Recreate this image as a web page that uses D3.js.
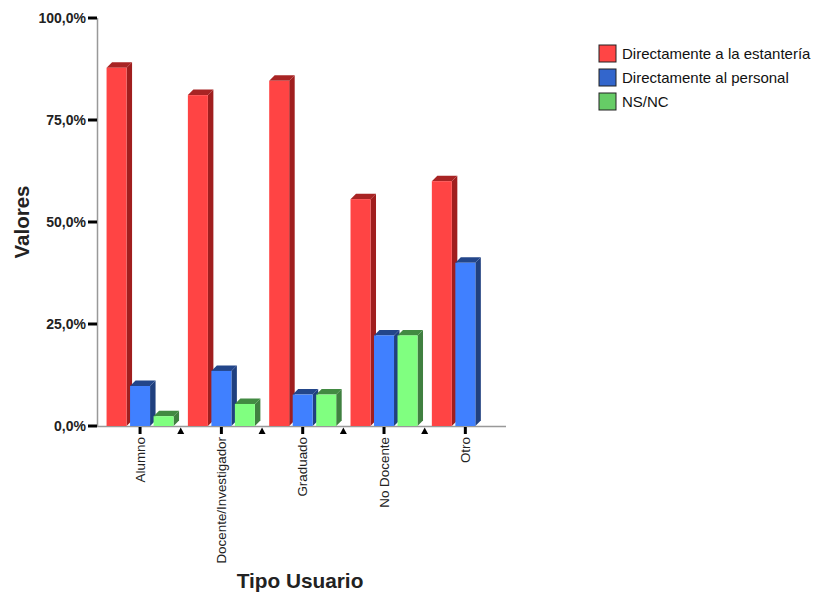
<!DOCTYPE html>
<html><head><meta charset="utf-8">
<script src="https://cdn.jsdelivr.net/npm/d3@7"></script>
<style>body{margin:0;background:#fff}svg{font-family:"Liberation Sans",Arial,sans-serif}</style>
</head><body>
<script>
const categories = ["Alumno","Docente/Investigador","Graduado","No Docente","Otro"];
const seriesNames = ["Directamente a la estantería","Directamente al personal","NS/NC"];
const estanteria = [87.8, 81.1, 84.6, 55.6, 60.0];
const personal   = [9.8, 13.5, 7.7, 22.2, 40.0];
const nsnc       = [2.4, 5.4, 7.7, 22.2, 0];
const yTicks = [0, 25, 50, 75, 100];
const yTickLabels = ["0,0%","25,0%","50,0%","75,0%","100,0%"];

const fronts = ["#ff4444","#4080ff","#80ff80"];
const sides  = ["#a01e1e","#20407f","#408040"];
const tops   = ["#a82424","#23468a","#428a42"];
const legendCols = ["#ff4545","#3366cc","#66cc66"];

const W=820,H=593;
const svg=d3.select("body").append("svg").attr("width",W).attr("height",H);
const y=d3.scaleLinear().domain([0,100]).range([426,18]);
const x0=d3.scaleBand().domain(categories).range([99.4,506]);
const x1=d3.scaleBand().domain(seriesNames).range([-33.5,33.5]).paddingInner(0.149);
const allSeries=[estanteria,personal,nsnc];
const D=5.5;

// axes lines
svg.append("line").attr("x1",97.5).attr("x2",97.5).attr("y1",y(100)).attr("y2",y(0)).attr("stroke","#999").attr("stroke-width",1.5);
svg.append("line").attr("x1",97).attr("x2",506).attr("y1",426.5).attr("y2",426.5).attr("stroke","#999").attr("stroke-width",1.5);

// y ticks
const yt=svg.append("g");
yTicks.forEach((t,i)=>{
  yt.append("line").attr("x1",88).attr("x2",97).attr("y1",y(t)).attr("y2",y(t)).attr("stroke","#000").attr("stroke-width",3);
  yt.append("text").attr("x",86).attr("y",y(t)).attr("dy","0.35em").attr("text-anchor","end")
    .attr("font-weight","bold").attr("font-size",14).attr("fill","#222").text(yTickLabels[i]);
});

// bars
const g=svg.append("g");
categories.forEach((c,ci)=>{
  const cx=x0(c)+x0.bandwidth()/2;
  seriesNames.forEach((s,si)=>{
    const v=allSeries[si][ci];
    if(!v) return;
    const xl=cx+x1(s), w=x1.bandwidth(), yt0=y(v), yb=y(0);
    g.append("path").attr("d",`M${xl+w},${yb}L${xl+w+D},${yb-D}L${xl+w+D},${yt0-D}L${xl+w},${yt0}Z`).attr("fill",sides[si]);
    g.append("path").attr("d",`M${xl},${yt0}L${xl+D},${yt0-D}L${xl+w+D},${yt0-D}L${xl+w},${yt0}Z`).attr("fill",tops[si]);
    g.append("rect").attr("x",xl).attr("y",yt0).attr("width",w).attr("height",yb-yt0).attr("fill",fronts[si]);
  });
});

// x ticks and labels
categories.forEach((c,ci)=>{
  const cx=x0(c)+x0.bandwidth()/2;
  svg.append("line").attr("x1",cx).attr("x2",cx).attr("y1",427).attr("y2",434).attr("stroke","#000").attr("stroke-width",3);
  svg.append("text").attr("transform",`translate(${cx+4.5},437) rotate(-90)`).attr("text-anchor","end")
    .attr("font-size",13.4).attr("fill","#222").text(c);
  if(ci<categories.length-1){
    const bx=x0(c)+x0.bandwidth();
    svg.append("path").attr("d",`M${bx},427.5L${bx+3.5},434L${bx-3.5},434Z`).attr("fill","#000");
  }
});

// axis titles
svg.append("text").attr("transform","translate(29,222) rotate(-90)").attr("text-anchor","middle")
  .attr("font-weight","bold").attr("font-size",20.5).attr("fill","#222").text("Valores");
svg.append("text").attr("x",300).attr("y",588).attr("text-anchor","middle")
  .attr("font-weight","bold").attr("font-size",20.8).attr("fill","#222").text("Tipo Usuario");

// legend
const lg=svg.append("g");
seriesNames.forEach((s,i)=>{
  const yy=45+i*24;
  lg.append("rect").attr("x",599).attr("y",yy).attr("width",17).attr("height",17).attr("fill",legendCols[i]).attr("stroke","#222").attr("stroke-width",1);
  lg.append("text").attr("x",622).attr("y",yy+8.5).attr("dy","0.35em").attr("font-size",15).attr("fill","#111").text(s);
});
</script>
</body></html>
